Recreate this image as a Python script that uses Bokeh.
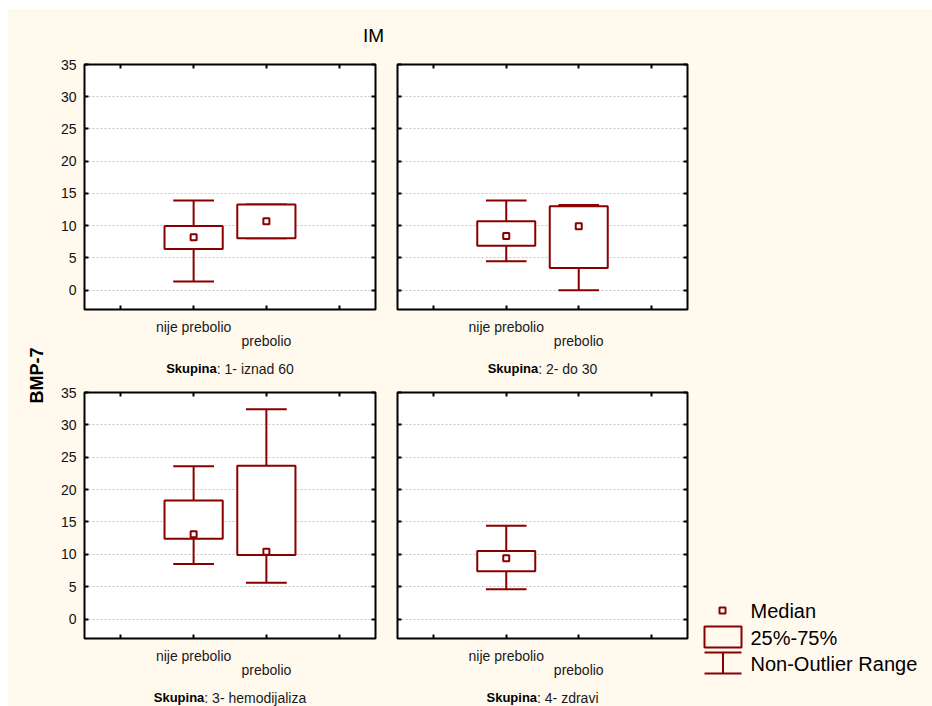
import math
from bokeh.plotting import figure
from bokeh.layouts import row, column
from bokeh.models import Range1d, FixedTicker, Spacer, LinearAxis
from bokeh.core.properties import value
from bokeh.embed import file_html
from bokeh.resources import INLINE

# ---------------- data ----------------
title = "IM"
y_label = "BMP-7"
group_word = "Skupina"
groups = ["1- iznad 60", "2- do 30", "3- hemodijaliza", "4- zdravi"]
categories = ["nije prebolio", "prebolio"]
y_ticks = [0, 5, 10, 15, 20, 25, 30, 35]
x_ticks = [1, 2, 3, 4]

# per group: values for [nije prebolio, prebolio]  (None = no data)
whisker_low = [[1.35, 8.05], [4.5, 0.0], [8.5, 5.6], [4.6, None]]
q1 = [[6.4, 8.05], [6.9, 3.45], [12.4, 9.9], [7.4, None]]
median = [[8.2, 10.7], [8.4, 9.9], [13.1, 10.4], [9.4, None]]
q3 = [[9.95, 13.3], [10.7, 13.0], [18.3, 23.7], [10.5, None]]
whisker_high = [[13.9, 13.3], [13.9, 13.2], [23.6, 32.4], [14.4, None]]

legend_texts = ["Median", "25%-75%", "Non-Outlier Range"]

# ---------------- style ----------------
CREAM = "#fff9ee"
RED = "#880000"
FONT = "Liberation Sans"

AW = {'a': .556, 'b': .556, 'c': .5, 'd': .556, 'e': .556, 'f': .278, 'g': .556, 'h': .556,
      'i': .222, 'j': .222, 'k': .5, 'l': .222, 'm': .833, 'n': .556, 'o': .556, 'p': .556,
      'q': .556, 'r': .333, 's': .5, 't': .278, 'u': .556, 'v': .5, 'w': .722, 'x': .5,
      'y': .5, 'z': .5, ' ': .278, ':': .278, '-': .333}
BW = {'S': .667, 'k': .556, 'u': .611, 'p': .611, 'i': .278, 'n': .611, 'a': .556}


def text_w(s, table, size):
    return sum(table.get(ch, .556) for ch in s) * size


def blank(x0, x1, y0, y1, width, height, x_range=None, mb_left=0, mb_right=0):
    """Blank cream figure; y axis points downward (page-like)."""
    p = figure(width=width, height=height,
               x_range=x_range if x_range is not None else Range1d(x0, x1),
               y_range=Range1d(y1, y0),
               x_axis_type=None, y_axis_type=None, output_backend="svg",
               toolbar_location=None, min_border_left=mb_left, min_border_right=mb_right,
               min_border_top=0, min_border_bottom=0)
    p.outline_line_color = None
    p.background_fill_color = CREAM
    p.border_fill_color = CREAM
    p.xgrid.visible = False
    p.ygrid.visible = False
    return p


B_BOT = 6  # border under each panel frame


def style_axis(ax, ticks, labels):
    ax.ticker = FixedTicker(ticks=ticks)
    ax.axis_line_color = None
    ax.major_tick_in = 4
    ax.major_tick_out = 0
    ax.major_tick_line_color = "black"
    ax.major_tick_line_width = 2
    ax.minor_tick_line_color = None
    if labels:
        ax.major_label_text_font = FONT
        ax.major_label_text_font_size = "14px"
        ax.major_label_text_color = "#111111"
        ax.major_label_standoff = 8
    else:
        ax.major_label_overrides = {t: "" for t in ticks}
        ax.major_label_text_font_size = "0px"
        ax.major_label_standoff = 0


def panel(gi, width, height, mb_left, mb_right, ylabels):
    p = figure(width=width, height=height, x_range=Range1d(0.5, 4.5), y_range=Range1d(-3, 35),
               output_backend="svg", toolbar_location=None,
               min_border_left=mb_left, min_border_right=mb_right,
               min_border_top=14, min_border_bottom=B_BOT)
    p.background_fill_color = "white"
    p.border_fill_color = CREAM
    p.outline_line_color = "black"
    p.outline_line_width = 2
    p.xgrid.visible = False
    p.ygrid.grid_line_color = "#c4c4c4"
    p.ygrid.grid_line_dash = "2 2"
    p.ygrid.grid_line_width = 1

    style_axis(p.xaxis[0], x_ticks, False)
    style_axis(p.yaxis[0], y_ticks, ylabels)
    top_ax = LinearAxis()
    style_axis(top_ax, x_ticks, False)
    p.add_layout(top_ax, "above")
    right_ax = LinearAxis()
    style_axis(right_ax, y_ticks, False)
    p.add_layout(right_ax, "right")

    xs, lo, b1, md, b3, hi = [], [], [], [], [], []
    for k, cat in enumerate(categories):
        if median[gi][k] is None:
            continue
        xs.append(k + 2)
        lo.append(whisker_low[gi][k]); b1.append(q1[gi][k]); md.append(median[gi][k])
        b3.append(q3[gi][k]); hi.append(whisker_high[gi][k])
    bw, cw = 0.4, 0.28
    p.segment(x0=xs, y0=lo, x1=xs, y1=b1, line_color=RED, line_width=2)
    p.segment(x0=xs, y0=b3, x1=xs, y1=hi, line_color=RED, line_width=2)
    p.segment(x0=[x - cw for x in xs], y0=lo, x1=[x + cw for x in xs], y1=lo, line_color=RED, line_width=2)
    p.segment(x0=[x - cw for x in xs], y0=hi, x1=[x + cw for x in xs], y1=hi, line_color=RED, line_width=2)
    p.quad(left=[x - bw for x in xs], right=[x + bw for x in xs], bottom=b1, top=b3,
           fill_color="white", line_color=RED, line_width=2)
    p.scatter(x=xs, y=md, marker="square", size=6, fill_color="white", line_color=RED, line_width=2)
    return p


def strip(gi, panel_fig, width, height, mb_left, mb_right):
    """Labels under a panel: x in the panel's data units, y in pixels below the frame."""
    s = blank(0, 0, 0, height, width, height, x_range=panel_fig.x_range,
              mb_left=mb_left, mb_right=mb_right)
    xs = [k + 2 for k in range(len(categories))]
    ys = [17 - B_BOT + 14 * k for k in range(len(categories))]
    s.text(x=xs, y=ys, text=categories, text_font=value(FONT), text_font_size="14px",
           text_align="center", text_baseline="middle", text_color="#1a1a1a")
    rest = ": " + groups[gi]
    wb = text_w(group_word, BW, 13)
    wn = text_w(rest, AW, 14)
    xc = (panel_fig.x_range.start + panel_fig.x_range.end) / 2
    split = (wb - wn) / 2
    yg = 59 - B_BOT
    s.text(x=[xc], y=[yg], x_offset=split, text=[group_word], text_font=value(FONT),
           text_font_size="13px", text_font_style="bold", text_align="right",
           text_baseline="middle", text_color="black")
    s.text(x=[xc], y=[yg], x_offset=split, text=[rest], text_font=value(FONT),
           text_font_size="14px", text_align="left", text_baseline="middle", text_color="#1a1a1a")
    return s


p1 = panel(0, 338, 265, 36, 11, True)
p2 = panel(1, 312, 265, 11, 11, False)
p3 = panel(2, 338, 266, 36, 11, True)
p4 = panel(3, 312, 266, 11, 11, False)
s1 = strip(0, p1, 338, 63, 36, 11)
s2 = strip(1, p2, 312, 63, 11, 11)
s3 = strip(2, p3, 338, 62, 36, 11)
s4 = strip(3, p4, 312, 62, 11, 11)

# title (page-like coordinates)
pt = blank(48, 698, 9, 50, 650, 41)
pt.text(x=[373], y=[35], text=[title], text_font=value(FONT), text_font_size="19px",
        text_align="center", text_baseline="middle", text_color="black")

# y label
py = blank(8, 48, 9, 706, 40, 697)
py.text(x=[36], y=[375], text=[y_label], angle=math.pi / 2, text_font=value(FONT),
        text_font_size="18px", text_font_style="bold", text_align="center",
        text_baseline="middle", text_color="black")

# legend column on the right
pl = blank(698, 932, 9, 706, 234, 697)
pl.scatter(x=[722], y=[610], marker="square", size=6, fill_color="white", line_color=RED, line_width=2)
pl.quad(left=[704], right=[741], top=[626], bottom=[647], fill_color=None, line_color=RED, line_width=2)
pl.segment(x0=[704, 704, 722.5], y0=[652, 673, 652], x1=[741, 741, 722.5], y1=[652, 673, 673],
           line_color=RED, line_width=2)
pl.text(x=[750, 750, 750], y=[610, 637, 663], text=legend_texts, text_font=value(FONT),
        text_font_size="20px", text_align="left", text_baseline="middle", text_color="black")

middle = column(pt, row(p1, p2), row(s1, s2), row(p3, p4), row(s3, s4))
content = row(py, middle, pl, styles={"background-color": CREAM})
page = column(Spacer(height=9, width=932), row(Spacer(width=8, height=697), content))

open("out.html", "w").write(file_html(page, INLINE))
